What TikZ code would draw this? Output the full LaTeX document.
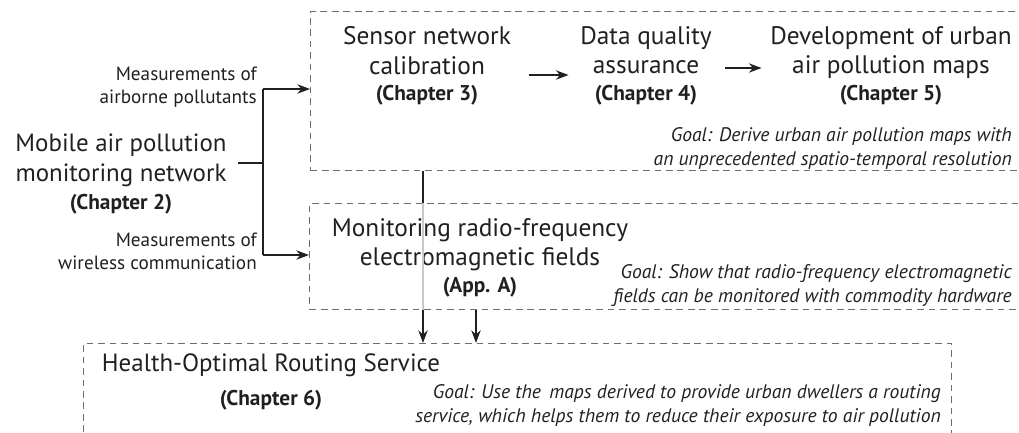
\documentclass[tikz,border=0pt]{standalone}
\usepackage{fontspec}
\setmainfont{PT Sans}
\usetikzlibrary{arrows.meta,calc}
\definecolor{ink}{HTML}{231F20}
\definecolor{dashc}{HTML}{6D6E71}
\definecolor{faintc}{HTML}{C8C8C8}
\tikzset{
  box/.style={draw=dashc, line width=0.8pt, dash pattern=on 5pt off 3.6pt, anchor=north west, inner sep=0pt},
  link/.style={draw=ink, line width=1.1pt},
  arr/.style={link, -{Stealth[length=9.5pt,width=7pt]}},
  faint/.style={draw=faintc, line width=1.1pt},
  big/.style={text=ink, align=center, font=\fontsize{19}{22}\selectfont},
  lab/.style={text=ink, align=right, anchor=east, inner sep=0pt, font=\fontsize{14.4}{17.5}\selectfont},
  goal/.style={text=ink, align=right, anchor=east, inner sep=0pt, font=\fontsize{14.7}{18}\selectfont\itshape},
}
\newcommand{\chap}[1]{{\bfseries\fontsize{16}{22}\selectfont #1}}
\begin{document}
\begin{tikzpicture}[x=0.75pt,y=-0.75pt]
\useasboundingbox (0,0) rectangle (1019,432);
\clip (0,0) rectangle (1019,432);
% boxes
\node[box, minimum width=540pt, minimum height=119.25pt] (topbox) at (310,11) {};
\node[box, minimum width=540pt, minimum height=79.5pt] (midbox) at (309,203) {};
\node[box, minimum width=651pt, minimum height=90pt] (botbox) at (83,343) {};
% left
\node[big, font=\fontsize{18.7}{23}\selectfont] (mobile) at (121,174) {Mobile air pollution\\monitoring network\\[-2pt]\chap{(Chapter 2)}};
\node[lab] (la) at (257,87) {Measurements of\\airborne pollutants};
\node[lab] (lb) at (257,251) {Measurements of\\wireless communication};
% top box content
\node[big] (s3) at (427,66) {Sensor network\\calibration\\[-2pt]\chap{(Chapter 3)}};
\node[big] (s4) at (646,66) {Data quality\\assurance\\[-2pt]\chap{(Chapter 4)}};
\node[big] (s5) at (891,66) {Development of urban\\air pollution maps\\[-2pt]\chap{(Chapter 5)}};
\node[goal] (g1) at (1012,148) {Goal: Derive urban air pollution maps with\\an unprecedented spatio-temporal resolution};
% middle box content
\node[big] (ma) at (480,258) {Monitoring radio-frequency\\electromagnetic fields\\[-2pt]\chap{(App. A)}};
\node[goal] (g2) at (1012,286) {Goal: Show that radio-frequency electromagnetic\\fields can be monitored with commodity hardware};
% bottom box content
\node[big, font=\fontsize{18.7}{27}\selectfont] (c6) at (271,382) {Health-Optimal Routing Service\\[-2pt]\chap{(Chapter 6)}};
\node[goal] (g3) at (941,405) {Goal: Use the\,\ maps derived to provide urban dwellers a routing\\service, which helps them to reduce their exposure to air pollution};
% connectors
\coordinate (j) at (263,163);
\coordinate (ja) at (263,89);
\coordinate (jb) at (263,255);
\draw[link] ([xshift=5pt]mobile.east |- j) -- (j);
\draw[link] (ja) -- (jb);
\draw[arr] (ja) -- (ja -| topbox.west);
\draw[arr] (jb) -- (jb -| midbox.west);
\draw[arr] ([shift={(13,9)}]s3.east) -- ([shift={(-7,9)}]s4.west);
\draw[arr] ([shift={(9,2)}]s4.east) -- ([shift={(-4,2)}]s5.west);
\coordinate (v) at (423,0);
\coordinate (w) at (476,0);
\draw[link] (topbox.south -| v) -- (midbox.north -| v);
\draw[faint] (midbox.north -| v) -- (midbox.south -| v);
\draw[arr] (midbox.south -| v) -- (botbox.north -| v);
\draw[arr] (midbox.south -| w) -- (botbox.north -| w);
\end{tikzpicture}
\end{document}
